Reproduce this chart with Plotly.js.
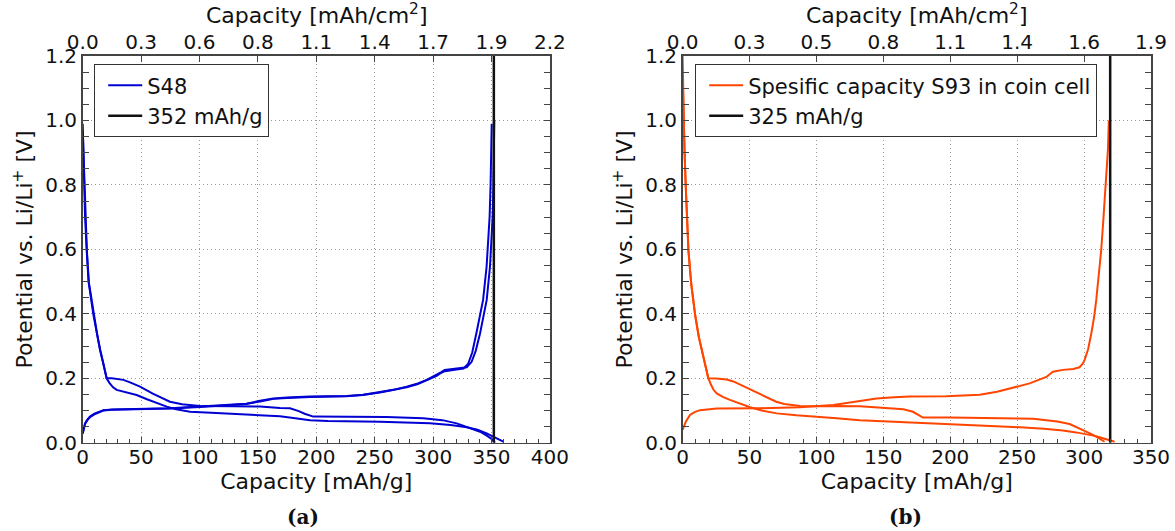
<!DOCTYPE html>
<html>
<head>
<meta charset="utf-8">
<script src="https://cdn.plot.ly/plotly-3.0.1.min.js"></script>
<style>html,body{margin:0;padding:0;background:#fff;}#chart{width:1175px;height:531px;}</style>
</head>
<body>
<div id="chart"></div>
<script>
// ---------- Panel (a): S48 ----------
const s48Dis1Cap = [0,0.5,1.1,2.0,3.4,5,9.1,12,14.8,17.7,20.5,25,30,34.8,40,49.1,60,74.7,85,100.4,129,151.8,168.9,177.5,185,190,197.4,226,260,291.6,308,320.2,330,340.2,346,350,353];
const s48Dis1V   = [0.99,0.908,0.805,0.702,0.598,0.5,0.398,0.34,0.288,0.245,0.2,0.2,0.198,0.195,0.188,0.174,0.152,0.127,0.119,0.114,0.113,0.112,0.108,0.107,0.098,0.09,0.081,0.081,0.08,0.076,0.07,0.06,0.048,0.034,0.022,0.012,0.0];
const s48Dis2Cap = [0,0.6,1.3,2.2,3.6,5.3,9.4,12.3,15.1,18,20.5,23,26,29.1,35,40,46.2,55,63,71.9,80,91.9,110,130,151.8,168.9,182,194.6,210,254.5,297.3,315,328.8,338,345.9,353,360.1];
const s48Dis2V   = [0.97,0.9,0.8,0.7,0.595,0.497,0.396,0.338,0.286,0.243,0.2,0.185,0.172,0.164,0.158,0.155,0.148,0.135,0.123,0.112,0.104,0.096,0.093,0.09,0.086,0.082,0.076,0.07,0.067,0.065,0.06,0.055,0.048,0.04,0.029,0.016,0.003];
const s48Ch1Cap  = [0,0.5,2,4,6.2,10,13.4,17.7,25,37.6,74.7,100.4,129,140,151.8,163.2,175,194.6,226,240,254.5,266,277.4,287,294.5,303,307,310,320,328.8,333,336.5,340.2,343,345.9,348.7,350,351,351.6,352.1,352.4];
const s48Ch1V    = [0.03,0.04,0.06,0.072,0.081,0.09,0.095,0.101,0.103,0.104,0.107,0.112,0.117,0.121,0.13,0.137,0.14,0.143,0.145,0.149,0.157,0.164,0.174,0.184,0.195,0.21,0.219,0.226,0.23,0.234,0.251,0.285,0.339,0.39,0.443,0.546,0.62,0.702,0.8,0.908,1.0];
const s48Ch2Cap  = [0,0.5,2,4,6.2,10,13.4,17.7,25,37.6,74.7,100.4,129,140,151.8,163.2,175,194.6,226,240,254.5,266,277.4,287,294.5,303,307,310,320,326,330,333.5,337,340,342.8,345.8,347.3,348.4,349.2,349.8,350.2];
const s48Ch2V    = [0.028,0.038,0.058,0.07,0.079,0.088,0.094,0.1,0.102,0.103,0.106,0.111,0.116,0.12,0.128,0.136,0.139,0.142,0.144,0.148,0.156,0.163,0.172,0.182,0.193,0.207,0.217,0.222,0.227,0.23,0.245,0.28,0.339,0.39,0.443,0.546,0.62,0.702,0.8,0.908,0.99];
const s48Marker  = 352;
const s48Ticks   = [0,50,100,150,200,250,300,350,400];
const s48TopLabels = ['0.0','0.3','0.6','0.8','1.1','1.4','1.7','1.9','2.2'];

// ---------- Panel (b): S93 ----------
const s93Dis1Cap = [0,0.4,0.8,1.4,2.3,3.2,4.3,6.3,9.3,12,14.3,17,19.2,25,32.9,37.9,44,50.4,57,62.8,70,76,87.7,100,112.6,132.5,145,157.4,165,172.1,176,179.6,200,246.8,262,271.8,280,289.2,295,299.1,304,309.1,312,315.3];
const s93Dis1V   = [1.2,1.1,1.0,0.908,0.8,0.7,0.598,0.5,0.398,0.33,0.288,0.24,0.2,0.199,0.196,0.19,0.178,0.164,0.151,0.14,0.127,0.12,0.114,0.113,0.114,0.113,0.11,0.107,0.104,0.096,0.086,0.078,0.078,0.076,0.074,0.07,0.066,0.058,0.048,0.04,0.03,0.019,0.011,0.003];
const s93Dis2Cap = [0,0.5,0.9,1.5,2.4,3.4,4.5,6.5,9.6,12.3,14.6,17.2,19.2,21,23,25.5,30,35.4,42,50.4,60,70.3,85,100.2,115,132.5,150,169.9,197,222,246.8,270,284.2,294,301.6,307,311.6,317,322.8];
const s93Dis2V   = [1.15,1.05,0.97,0.9,0.79,0.69,0.59,0.49,0.39,0.325,0.284,0.236,0.2,0.182,0.165,0.153,0.142,0.133,0.122,0.11,0.099,0.091,0.085,0.081,0.076,0.07,0.067,0.064,0.058,0.053,0.049,0.043,0.038,0.032,0.027,0.022,0.017,0.01,0.003];
const s93ChCap   = [0,1,2.5,5.5,9,13,25.5,57.8,87.7,112.6,125,132.5,145,158,169.9,197,207.3,222,235,246.8,259.3,271.8,274,276.7,284.2,292,296.6,299,300.4,303,305.4,307.5,309.1,311,312.8,314.2,315.3,316.6,317.8,318.5];
const s93ChV     = [0.04,0.05,0.066,0.086,0.095,0.101,0.106,0.107,0.11,0.117,0.124,0.13,0.137,0.141,0.143,0.144,0.146,0.149,0.158,0.17,0.184,0.204,0.212,0.22,0.226,0.229,0.234,0.245,0.257,0.29,0.339,0.39,0.443,0.52,0.598,0.68,0.753,0.83,0.908,1.0];
const s93Marker  = 319.5;
const s93Ticks   = [0,50,100,150,200,250,300,350];
const s93TopLabels = ['0.0','0.3','0.5','0.8','1.1','1.4','1.6','1.9'];

const BLUE = '#0000d2', ORANGE = '#ff4500';
const FONT = 'DejaVu Sans';

function curve(x, y, xa, ya, color, name, show, leg) {
  return {x: x, y: y, xaxis: xa, yaxis: ya, type: 'scatter', mode: 'lines',
          line: {color: color, width: 2}, name: name || '', showlegend: !!show,
          legend: leg, hoverinfo: 'skip'};
}
function vline(xv, xa, ya, name, leg) {
  return {x: [xv, xv], y: [0, 1.2], xaxis: xa, yaxis: ya, type: 'scatter', mode: 'lines',
          line: {color: '#111', width: 2.5}, name: name, showlegend: true, legend: leg, hoverinfo: 'skip'};
}

const data = [
  curve(s48Dis1Cap, s48Dis1V, 'x', 'y', BLUE, 'S48', true, 'legend'),
  curve(s48Dis2Cap, s48Dis2V, 'x', 'y', BLUE, '', false, 'legend'),
  curve(s48Ch1Cap, s48Ch1V, 'x', 'y', BLUE, '', false, 'legend'),
  curve(s48Ch2Cap, s48Ch2V, 'x', 'y', BLUE, '', false, 'legend'),
  vline(s48Marker, 'x', 'y', s48Marker + ' mAh/g', 'legend'),
  {x: [0], y: [null], xaxis: 'x2', yaxis: 'y', mode: 'markers', showlegend: false, hoverinfo: 'skip'},
  curve(s93Dis1Cap, s93Dis1V, 'x3', 'y2', ORANGE, 'Spesific capacity S93 in coin cell', true, 'legend2'),
  curve(s93Dis2Cap, s93Dis2V, 'x3', 'y2', ORANGE, '', false, 'legend2'),
  curve(s93ChCap, s93ChV, 'x3', 'y2', ORANGE, '', false, 'legend2'),
  vline(s93Marker, 'x3', 'y2', '325 mAh/g', 'legend2'),
  {x: [0], y: [null], xaxis: 'x4', yaxis: 'y2', mode: 'markers', showlegend: false, hoverinfo: 'skip'}
];

const W = 1175, H = 531;
const yDom = [(H - 442.7) / H, (H - 56) / H];
const xDomL = [82.7 / W, 549.9 / W];
const xDomR = [682.6 / W, 1151 / W];

const tickFont = {family: FONT, size: 20, color: '#111'};
const titleFont = {family: FONT, size: 22, color: '#111'};
const GRID = '#9a9a9a', GRIDDASH = '1px,3px';

function bottomAxis(dom, anchor, rmax) {
  return {domain: dom, anchor: anchor, range: [0, rmax], tickmode: 'linear', tick0: 0, dtick: 50,
    showline: true, mirror: true, linecolor: '#444', linewidth: 1.6,
    ticks: 'inside', ticklen: 6, tickwidth: 1, tickcolor: '#444', ticklabelstandoff: -4,
    minor: {tickmode: 'linear', tick0: 0, dtick: 10, ticks: 'inside', ticklen: 3.5, tickwidth: 1, tickcolor: '#444', showgrid: false},
    showgrid: true, gridcolor: GRID, griddash: GRIDDASH, gridwidth: 1, zeroline: false,
    tickfont: tickFont, automargin: false, fixedrange: true,
    title: {text: 'Capacity [mAh/g]', font: titleFont, standoff: 0}};
}
function topAxis(over, anchor, rmax, vals, labels) {
  return {overlaying: over, side: 'top', anchor: anchor, range: [0, rmax],
    tickmode: 'array', tickvals: vals, ticktext: labels, ticklabelstandoff: 2,
    showline: false, ticks: 'inside', ticklen: 6, tickwidth: 1, tickcolor: '#444',
    showgrid: false, zeroline: false, tickfont: tickFont, automargin: false, fixedrange: true};
}
function leftAxis(anchor) {
  return {domain: yDom, anchor: anchor, range: [0, 1.2], tickmode: 'linear', tick0: 0, dtick: 0.2, tickformat: '.1f',
    showline: true, mirror: 'allticks', linecolor: '#444', linewidth: 1.6,
    ticks: 'inside', ticklen: 6, tickwidth: 1, tickcolor: '#444',
    minor: {tickmode: 'linear', tick0: 0, dtick: 0.05, ticks: 'inside', ticklen: 3.5, tickwidth: 1, tickcolor: '#444', showgrid: false},
    showgrid: true, gridcolor: GRID, griddash: GRIDDASH, gridwidth: 1, zeroline: false,
    tickfont: tickFont, automargin: false, fixedrange: true,
    title: {text: 'Potential vs. Li/Li<sup>+</sup> [V]', font: titleFont, standoff: 6}};
}
const legBase = {xanchor: 'left', yanchor: 'top', bgcolor: '#fff', bordercolor: '#333', borderwidth: 1.2,
  font: {family: FONT, size: 21, color: '#111'}, itemwidth: 34, indentation: 8};

const topTitle = 'Capacity [mAh/cm<sup>2</sup>]';
const layout = {
  width: W, height: H, margin: {l: 0, r: 0, t: 0, b: 0},
  paper_bgcolor: '#fff', plot_bgcolor: '#fff',
  font: {family: FONT, color: '#111'},
  xaxis: bottomAxis(xDomL, 'y', 400),
  xaxis2: topAxis('x', 'y', 400, s48Ticks, s48TopLabels),
  yaxis: leftAxis('x'),
  xaxis3: bottomAxis(xDomR, 'y2', 350),
  xaxis4: topAxis('x3', 'y2', 350, s93Ticks, s93TopLabels),
  yaxis2: leftAxis('x3'),
  legend: Object.assign({x: 94 / W, y: 1 - 64 / H}, legBase),
  legend2: Object.assign({x: 695 / W, y: 1 - 64 / H}, legBase),
  annotations: [
    {text: topTitle, x: (xDomL[0] + xDomL[1]) / 2, y: 1 - 30 / H, xref: 'paper', yref: 'paper', showarrow: false,
     xanchor: 'center', yanchor: 'bottom', font: titleFont},
    {text: topTitle, x: (xDomR[0] + xDomR[1]) / 2, y: 1 - 30 / H, xref: 'paper', yref: 'paper', showarrow: false,
     xanchor: 'center', yanchor: 'bottom', font: titleFont},
    {text: '<b>(a)</b>', x: 303 / W, y: 1 - 517 / H, xref: 'paper', yref: 'paper', showarrow: false,
     xanchor: 'center', yanchor: 'middle', font: {family: 'DejaVu Serif', size: 20, color: '#111'}},
    {text: '<b>(b)</b>', x: 905 / W, y: 1 - 517 / H, xref: 'paper', yref: 'paper', showarrow: false,
     xanchor: 'center', yanchor: 'middle', font: {family: 'DejaVu Serif', size: 20, color: '#111'}}
  ]
};

Plotly.newPlot('chart', data, layout, {staticPlot: true, displayModeBar: false});
</script>
</body>
</html>
